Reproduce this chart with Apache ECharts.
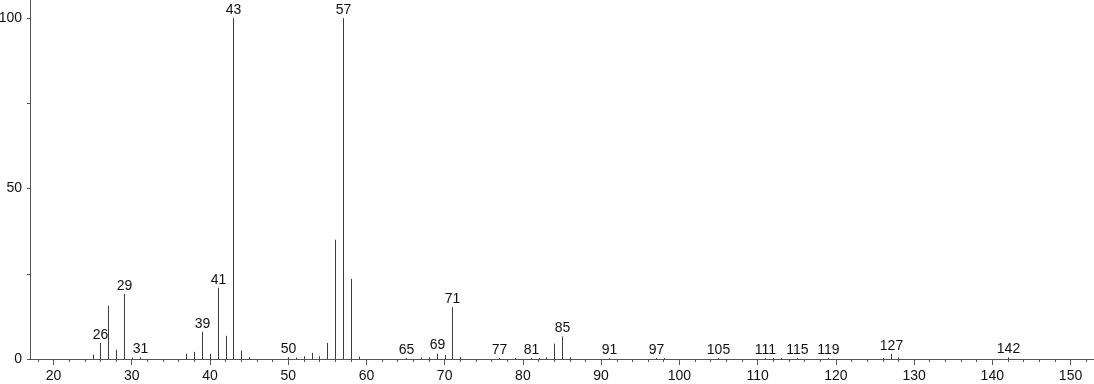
<!DOCTYPE html>
<html>
<head>
<meta charset="utf-8">
<script src="https://cdn.jsdelivr.net/npm/echarts@6/dist/echarts.min.js"></script>
<style>
html,body{margin:0;padding:0;background:#fff;}
#chart{width:1094px;height:384px;}
</style>
</head>
<body>
<div id="chart"></div>
<script>
// m/z values and relative intensities
const mz =        [25, 26, 27,  28, 29,  30, 31, 37, 38, 39, 40, 41,  42, 43, 44, 45, 50, 51, 52, 53, 54, 55, 56, 57, 58, 59, 65, 67, 68, 69, 70, 71, 72, 77, 79, 81, 82, 83, 84, 85, 86, 91, 97, 98, 105, 111, 112, 113, 115, 119, 126, 127, 128, 142];
const intensity = [1.3,4.7,15.6,2.7,19.1,0.4,0.5,1.6,2.1,8.0,1.5,20.9,6.8,100,2.5,0.5,0.5,0.4,0.8,1.8,0.8,4.7,35.0,100,23.5,0.7,0.3,0.4,0.5,1.6,1.2,15.2,0.6,0.3,0.3,0.3,0.3,0.5,4.5,6.6,0.5,0.3,0.3,0.3,0.3, 0.3, 0.3, 0.3, 0.3, 0.3, 0.3, 1.5, 0.4, 0.5];
const labeledPeaks = [26, 29, 31, 39, 41, 43, 50, 57, 65, 69, 71, 77, 81, 85, 91, 97, 105, 111, 115, 119, 127, 142];
const xMajorTicks = [20, 30, 40, 50, 60, 70, 80, 90, 100, 110, 120, 130, 140, 150];
const xMinorTicks = [18,20,22,24,26,28,30,32,34,36,38,40,42,44,46,48,50,52,54,56,58,60,62,64,66,68,70,72,74,76,78,80,82,84,86,88,90,92,94,96,98,100,102,104,106,108,110,112,114,116,118,120,122,124,126,128,130,132,134,136,138,140,142,144,146,148,150,152];
const yTicks = [0, 25, 50, 75, 100];
const yLabels = [0, 50, 100];

const FONT = "'Liberation Sans', Arial, sans-serif";
const data = mz.map((m, i) => [m, intensity[i]]);

const chart = echarts.init(document.getElementById('chart'), null, {renderer: 'canvas'});
chart.setOption({
  animation: false,
  backgroundColor: '#fff',
  grid: {left: 30, right: 0, top: 0, bottom: 25, containLabel: false, outerBoundsMode: 'none'},
  xAxis: [{
    type: 'value', min: 17, max: 153, position: 'bottom',
    axisLine: {show: true, lineStyle: {color: '#555', width: 1}},
    axisTick: {show: true, customValues: xMajorTicks, length: 6, lineStyle: {color: '#555'}},
    axisLabel: {show: true, customValues: xMajorTicks, fontSize: 14, fontFamily: FONT, color: '#111', margin: 10, hideOverlap: false},
    splitLine: {show: false}
  }, {
    type: 'value', min: 17, max: 153, position: 'bottom', offset: 0,
    axisLine: {show: false},
    axisTick: {show: true, customValues: xMinorTicks, length: 3, lineStyle: {color: '#555'}},
    axisLabel: {show: false},
    splitLine: {show: false}
  }],
  yAxis: {
    type: 'value', min: 0, max: 105.3,
    axisLine: {show: true, lineStyle: {color: '#555', width: 1}},
    axisTick: {show: true, customValues: yTicks, length: 3, lineStyle: {color: '#555'}},
    axisLabel: {show: true, customValues: yLabels, fontSize: 14, fontFamily: FONT, color: '#111', margin: 8},
    splitLine: {show: false}
  },
  series: [{
    type: 'custom',
    xAxisIndex: 0,
    yAxisIndex: 0,
    data: data,
    clip: false,
    renderItem: function (params, api) {
      const x = api.value(0), y = api.value(1);
      const p0 = api.coord([x, 0]);
      const p1 = api.coord([x, y]);
      const px = Math.round(p0[0]) + 0.5;
      const children = [{
        type: 'line',
        shape: {x1: px, y1: p0[1], x2: px, y2: p1[1]},
        style: {stroke: '#3c3c3c', lineWidth: 1}
      }];
      if (labeledPeaks.indexOf(x) >= 0) {
        children.push({
          type: 'text',
          style: {
            text: String(x), x: px, y: p1[1] - 1,
            align: 'center', verticalAlign: 'bottom',
            fontSize: 14, fontFamily: FONT, fill: '#111'
          }
        });
      }
      return {type: 'group', children: children};
    }
  }]
});
</script>
</body>
</html>
